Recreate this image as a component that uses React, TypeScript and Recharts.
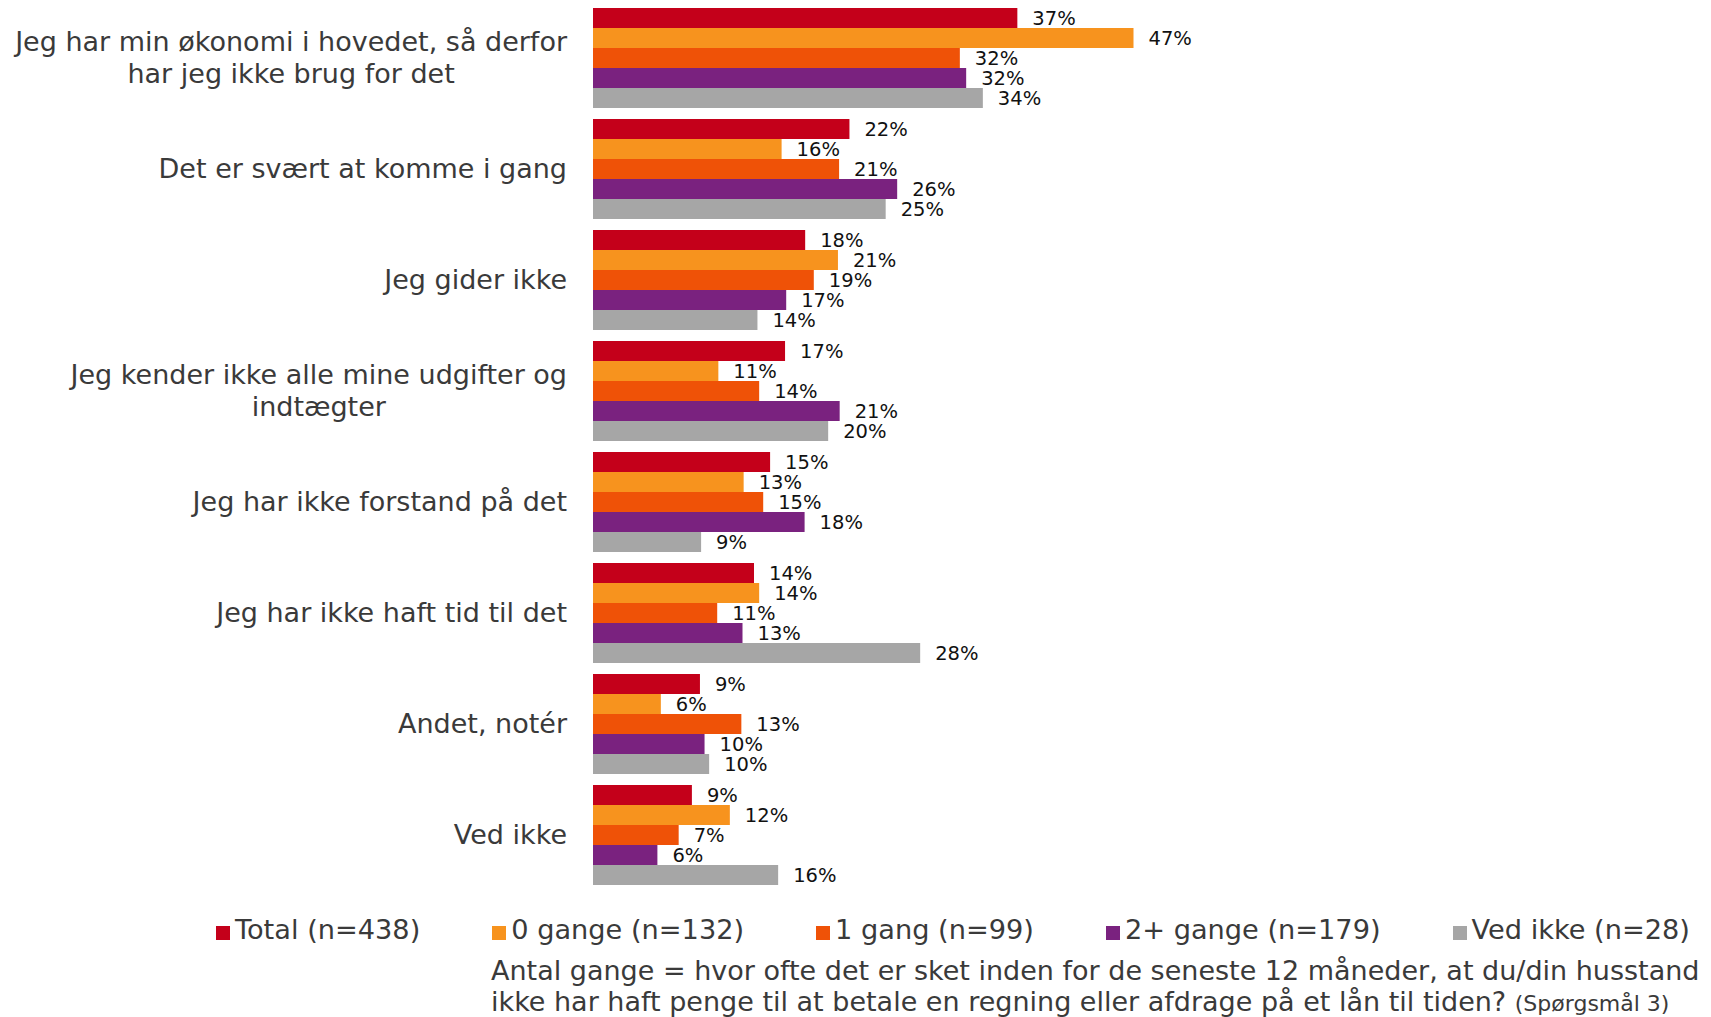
import { BarChart, Bar, XAxis, YAxis, Legend, LabelList } from "recharts"

const categories = [
  "Jeg har min økonomi i hovedet, så derfor har jeg ikke brug for det",
  "Det er svært at komme i gang",
  "Jeg gider ikke",
  "Jeg kender ikke alle mine udgifter og indtægter",
  "Jeg har ikke forstand på det",
  "Jeg har ikke haft tid til det",
  "Andet, notér",
  "Ved ikke",
]

const seriesNames = ["Total (n=438)", "0 gange (n=132)", "1 gang (n=99)", "2+ gange (n=179)", "Ved ikke (n=28)"]
const seriesColors = ["#C4001A", "#F7931E", "#EF5207", "#7A227F", "#A6A6A6"]

// bar lengths, labels shown rounded
const totalValues = [36.9, 22.3, 18.45, 16.7, 15.4, 14.0, 9.3, 8.6]
const zeroValues = [47.0, 16.4, 21.3, 10.9, 13.1, 14.45, 5.9, 11.9]
const oneValues = [31.9, 21.4, 19.2, 14.45, 14.8, 10.8, 12.9, 7.45]
const twoPlusValues = [32.45, 26.45, 16.8, 21.45, 18.4, 13.0, 9.7, 5.6]
const unknownValues = [33.9, 25.45, 14.3, 20.45, 9.4, 28.45, 10.1, 16.1]

const seriesKeys = ["total", "zero", "one", "twoPlus", "unknown"]
const seriesValues = [totalValues, zeroValues, oneValues, twoPlusValues, unknownValues]

const data = categories.map((name, i) => {
  const row: Record<string, string | number> = { name }
  seriesKeys.forEach((k, s) => {
    row[k] = seriesValues[s][i]
  })
  return row
})

const FONT = '"DejaVu Sans", Verdana, sans-serif'
const TICK_SIZE = 27
const LABEL_RIGHT = 567

let ctx: CanvasRenderingContext2D | null = null
function textWidth(s: string) {
  if (!ctx) ctx = document.createElement("canvas").getContext("2d")
  if (!ctx) return s.length * TICK_SIZE * 0.55
  ctx.font = `${TICK_SIZE}px "DejaVu Sans"`
  return ctx.measureText(s).width
}

function wrap(text: string, maxChars: number) {
  const lines: string[] = []
  let cur = ""
  text.split(" ").forEach((w) => {
    const next = cur ? cur + " " + w : w
    if (next.length > maxChars && cur) {
      lines.push(cur)
      cur = w
    } else {
      cur = next
    }
  })
  if (cur) lines.push(cur)
  return lines
}

function CategoryTick(props: any) {
  const { y, payload } = props
  const lines = wrap(String(payload.value), 41)
  const lineH = 31.6
  if (lines.length === 1) {
    return (
      <text x={LABEL_RIGHT} y={y} textAnchor="end" dominantBaseline="central" fontSize={TICK_SIZE} fill="#3a3a3a" fontFamily={FONT}>
        {lines[0]}
      </text>
    )
  }
  const maxW = Math.max(...lines.map(textWidth))
  const cx = LABEL_RIGHT - maxW / 2
  const y0 = y - ((lines.length - 1) * lineH) / 2
  return (
    <text x={cx} y={y0} textAnchor="middle" fontSize={TICK_SIZE} fill="#3a3a3a" fontFamily={FONT}>
      {lines.map((l, i) => (
        <tspan key={i} x={cx} y={y0 + i * lineH} dominantBaseline="central">
          {l}
        </tspan>
      ))}
    </text>
  )
}

function renderValueLabel(props: any) {
  const { x, y, width, height, value } = props
  return (
    <text
      x={Number(x) + Number(width) + 15}
      y={Number(y) + Number(height) / 2 + 0.5}
      dominantBaseline="central"
      fontSize={19.5}
      fill="#111"
      fontFamily={FONT}
    >
      {Math.round(Number(value))}%
    </text>
  )
}

function LegendContent(props: any) {
  const items = [...(props.payload || [])].sort(
    (a: any, b: any) => seriesNames.indexOf(a.value) - seriesNames.indexOf(b.value)
  )
  return (
    <div style={{ display: "flex", gap: 72, fontFamily: FONT, fontSize: 27.2, color: "#3a3a3a", lineHeight: "31px", whiteSpace: "nowrap" }}>
      {items.map((p: any) => (
        <div key={p.value} style={{ display: "flex", alignItems: "center" }}>
          <span style={{ display: "inline-block", width: 14, height: 14, background: p.color, marginRight: 5, marginTop: 6 }} />
          <span>{p.value}</span>
        </div>
      ))}
    </div>
  )
}

export default function App() {
  return (
    <div style={{ position: "absolute", left: 0, top: 0, width: 1711, height: 1017, background: "#fff" }}>
      <BarChart
        width={1711}
        height={1017}
        data={data}
        layout="vertical"
        margin={{ top: 2, right: 83, left: 0, bottom: 127 }}
        barGap={0}
      >
        <XAxis type="number" domain={[0, 90]} hide />
        <YAxis
          type="category"
          dataKey="name"
          width={593}
          axisLine={false}
          tickLine={false}
          tick={<CategoryTick />}
          interval={0}
        />
        <Legend
          layout="horizontal"
          verticalAlign="middle"
          align="center"
          content={<LegendContent />}
          wrapperStyle={{ top: 914, left: 216, width: "auto", height: 31 }}
        />
        {seriesKeys.map((k, s) => (
          <Bar key={k} dataKey={k} name={seriesNames[s]} fill={seriesColors[s]} barSize={20} isAnimationActive={false}>
            <LabelList dataKey={k} content={renderValueLabel} />
          </Bar>
        ))}
      </BarChart>
      <div
        style={{
          position: "absolute",
          left: 491,
          top: 955,
          fontFamily: FONT,
          fontSize: 27,
          lineHeight: "31px",
          color: "#3a3a3a",
          whiteSpace: "nowrap",
        }}
      >
        <div>Antal gange = hvor ofte det er sket inden for de seneste 12 måneder, at du/din husstand</div>
        <div>
          ikke har haft penge til at betale en regning eller afdrage på et lån til tiden? <span style={{ fontSize: 22 }}>(Spørgsmål 3)</span>
        </div>
      </div>
    </div>
  )
}
